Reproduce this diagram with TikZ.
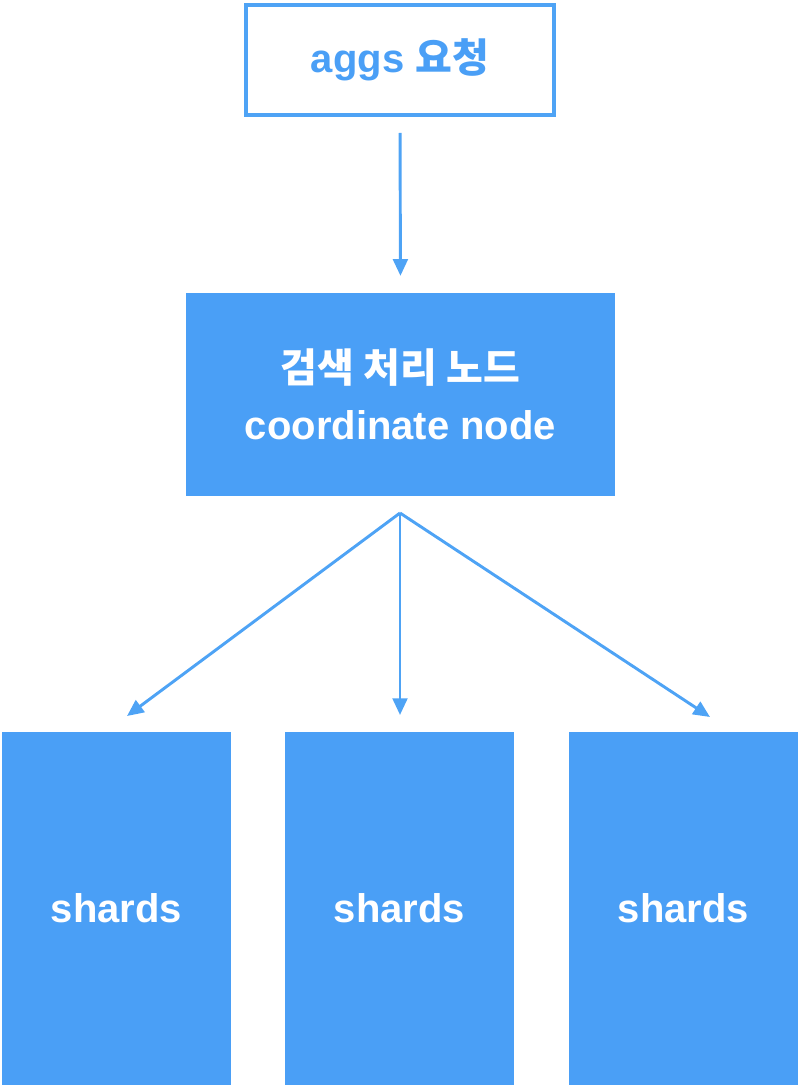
\documentclass[tikz,border=0pt]{standalone}
\usepackage{fontspec}
\setmainfont{Liberation Sans}
\newfontfamily\krfont{Noto Sans CJK KR}
\usetikzlibrary{arrows.meta}
\definecolor{esblue}{RGB}{74,159,246}
\definecolor{esline}{RGB}{78,163,245}
\tikzset{every picture/.style={line width=0.75pt}}

\begin{document}
\begin{tikzpicture}[x=0.75pt,y=0.75pt,yscale=-1,xscale=1,
	reqbox/.style={draw=esline,line width=3pt,fill=white,text=esblue,minimum width=231pt,minimum height=82.5pt,inner sep=0pt},
	nodebox/.style={fill=esblue,text=white,minimum width=321.75pt,minimum height=152.25pt,inner sep=0pt,align=center},
	shardbox/.style={fill=esblue,text=white,minimum width=171.75pt,minimum height=264.75pt,inner sep=0pt},
	flow/.style={draw=esline,line width=2.2pt,-{Triangle[length=12.5pt,width=11pt]}},
	lbl/.style={font=\fontsize{30}{43}\selectfont\bfseries}]
		\useasboundingbox (0,0) rectangle (800,1087);
		
		%request box
		\node [reqbox,lbl] (req) at (400,60) {aggs {\krfont 요청}};
		%coordinate node
		\node [nodebox,lbl] (coord) at (400.5,394.5) {{\krfont 검색 처리 노드}\\coordinate node};
		%shards
		\node [shardbox,lbl] (shA) at (116.5,908.5) {shards};
		\node [shardbox,lbl] (shB) at (399.5,908.5) {shards};
		\node [shardbox,lbl] (shC) at (683.5,908.5) {shards};
		
		\coordinate (fan) at (400,513);
		\coordinate (tipA) at (127,716);
		\coordinate (tipB) at (400,715);
		\coordinate (tipC) at (710,717);
		
		\draw [flow,shorten <=12pt,shorten >=12.5pt] (req.south) -- (coord.north);
		\draw [flow] (fan) -- (tipA);
		\draw [flow] (fan) -- (tipB);
		\draw [flow] (fan) -- (tipC);
		
	\end{tikzpicture}
\end{document}
